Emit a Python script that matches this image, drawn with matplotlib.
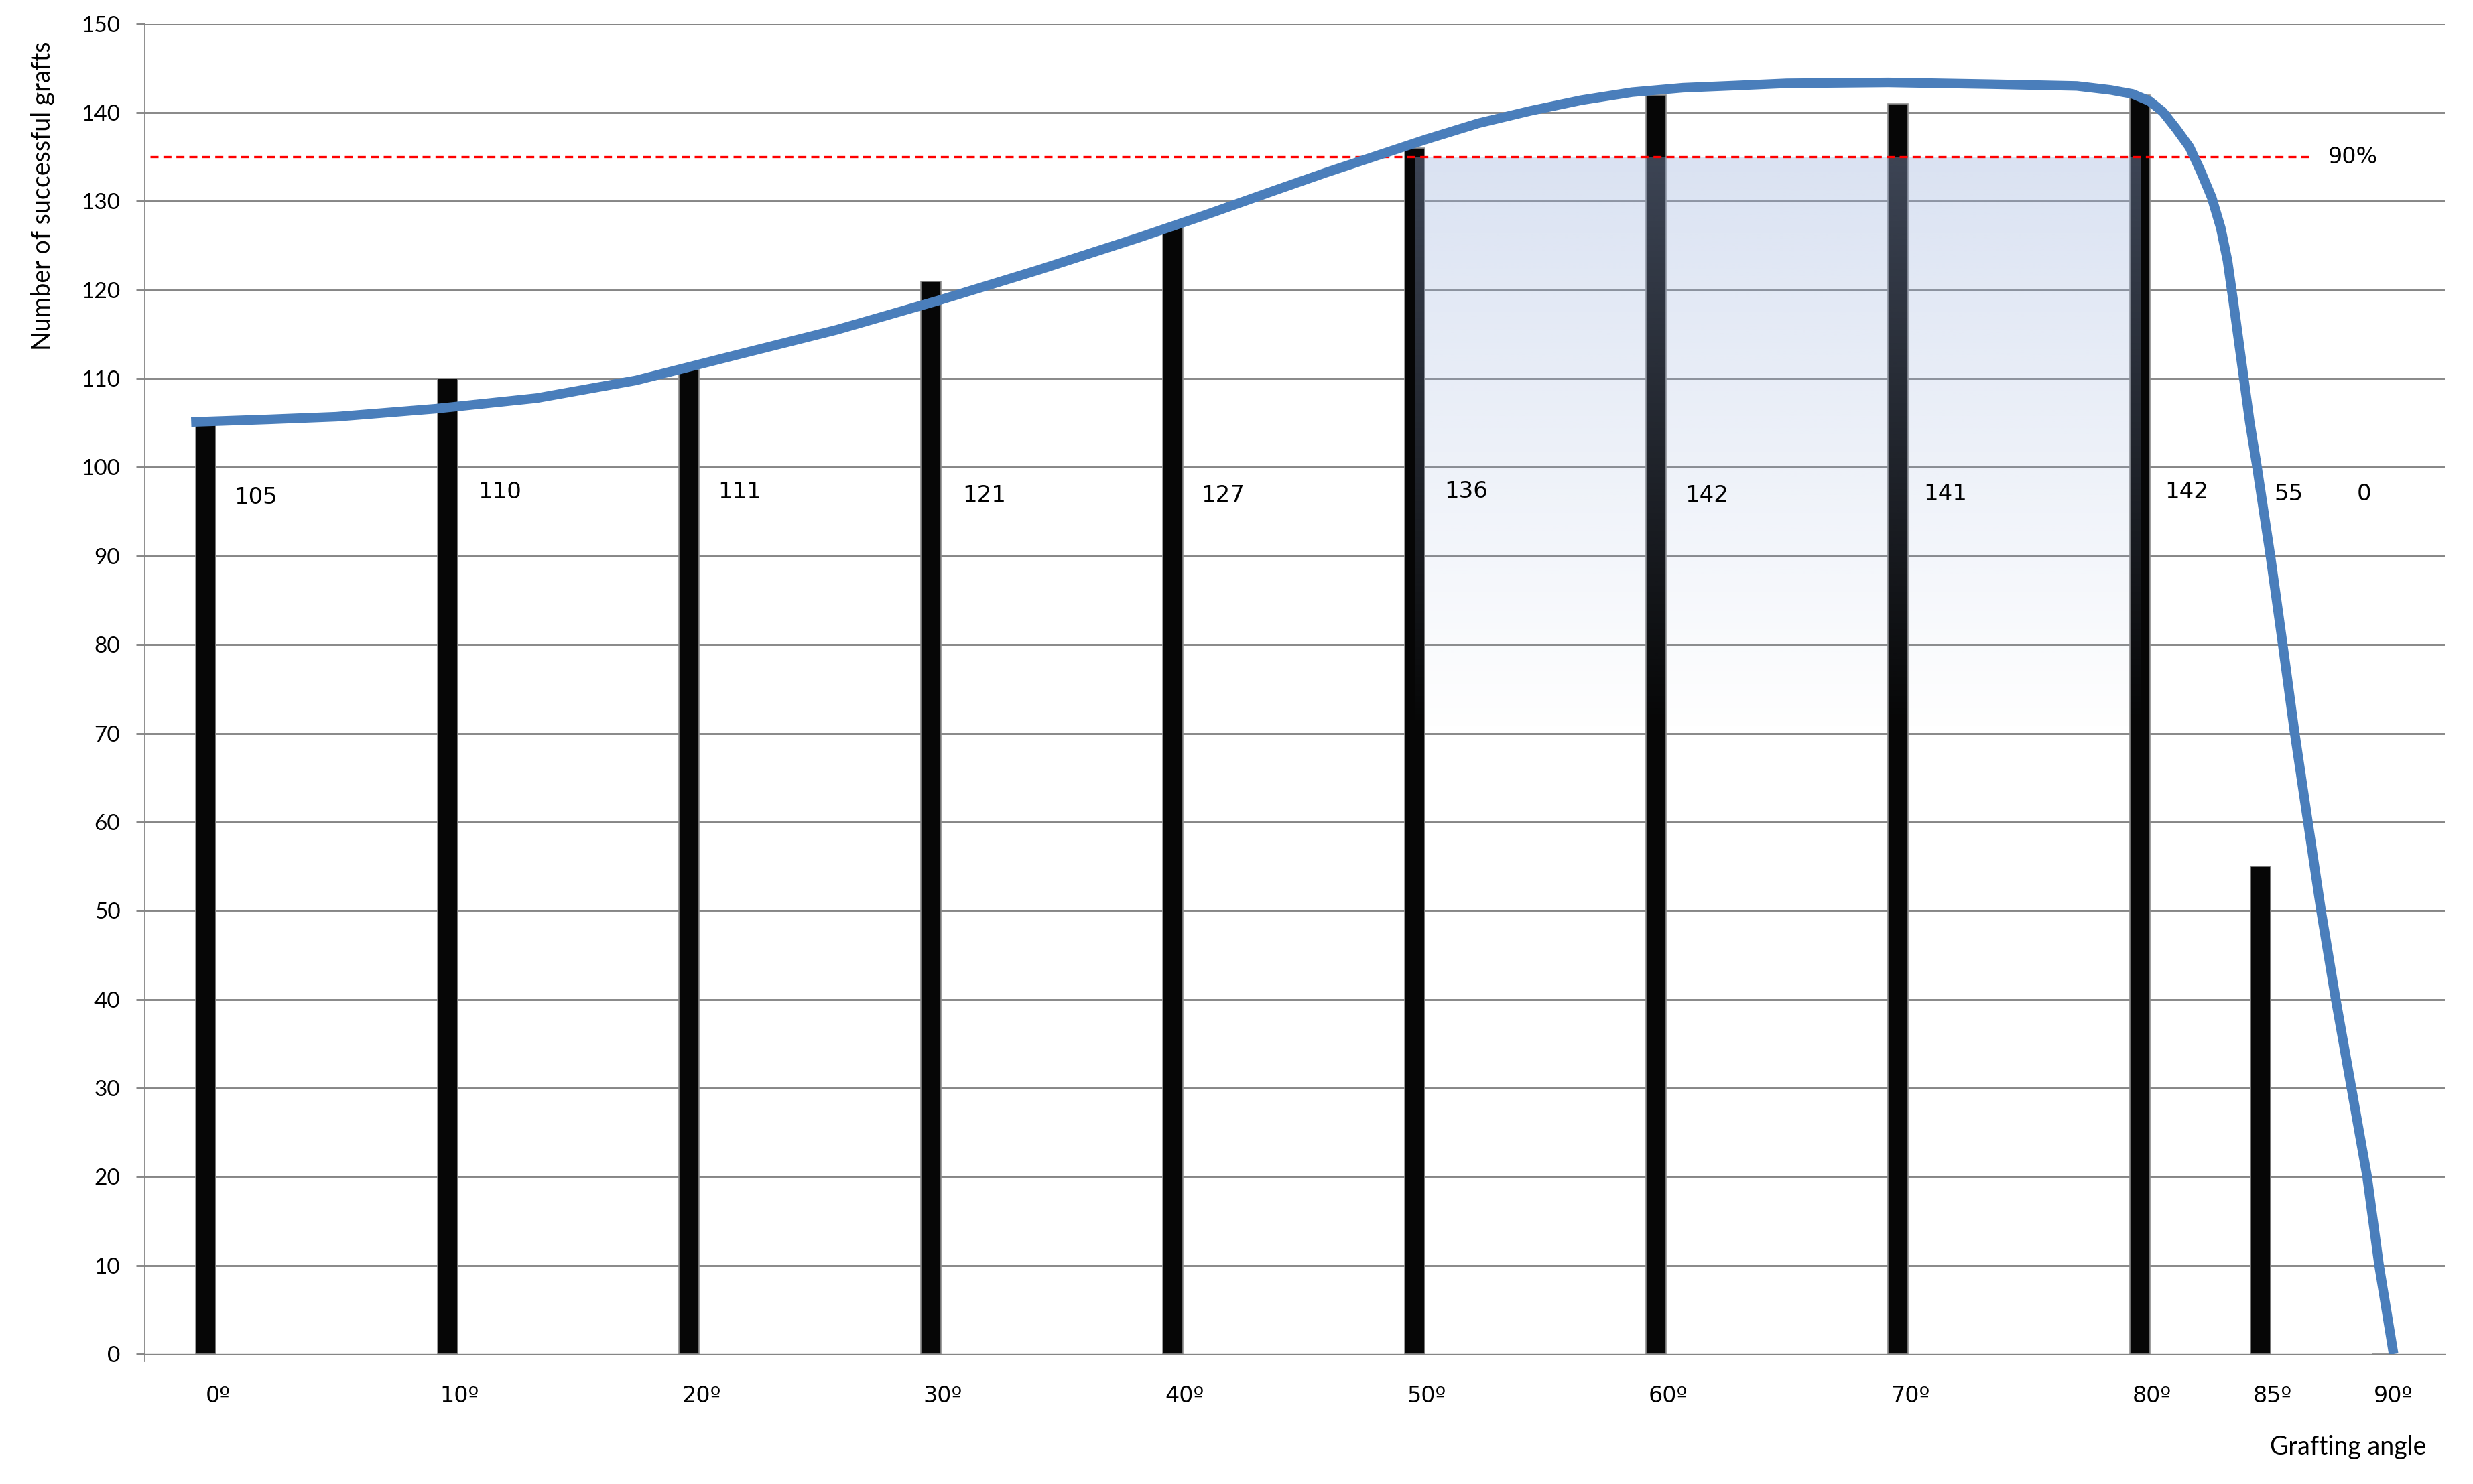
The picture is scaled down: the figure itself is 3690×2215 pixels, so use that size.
import matplotlib
matplotlib.use('Agg')
import matplotlib.pyplot as plt
import numpy as np
from matplotlib.transforms import ScaledTranslation

# ---------------- data ----------------
angles = [0, 10, 20, 30, 40, 50, 60, 70, 80, 85, 90]
grafts = [105, 110, 111, 121, 127, 136, 142, 141, 142, 55, 0]
tick_labels = ['0º', '10º', '20º', '30º', '40º', '50º', '60º', '70º', '80º', '85º', '90º']

# fitted trend curve
curve_angle = [-0.6, 2.6, 5.4, 9.5, 13.7, 17.8, 22.0, 26.1, 30.3, 34.5, 38.6, 41.4,
               44.2, 46.3, 48.4, 50.5, 52.65, 54.8, 56.9, 59.0, 61.1, 63.3, 65.4,
               69.6, 73.9, 77.4, 78.8, 79.7, 80.4, 80.95, 81.5, 82.06, 82.52, 82.98,
               83.35, 83.63, 83.86, 84.09, 84.32, 84.55, 84.83, 85.4, 85.9, 86.4,
               86.95, 87.5, 88.1, 88.75, 89.4, 89.9, 90.5]
curve_value = [105.1, 105.4, 105.7, 106.6, 107.8, 109.8, 112.7, 115.5, 118.8, 122.3,
               125.9, 128.5, 131.2, 133.2, 135.1, 137.0, 138.8, 140.2, 141.4, 142.3,
               142.8, 143.05, 143.3, 143.4, 143.2, 143.0, 142.55, 142.1, 141.3, 140.1,
               138.2, 136.1, 133.4, 130.4, 127.0, 123.3, 118.9, 114.3, 109.7, 105.1,
               100.4, 90.1, 80.3, 70.2, 60.1, 50.0, 40.1, 30.1, 20.1, 10.0, 0.0]

threshold = 135          # 90 % of 150
threshold_label = '90%'
band_angles = (50, 80)   # shaded optimum range
band_values = (70, 135)
y_ticks = list(range(0, 151, 10))

# ---------------- layout / style ----------------
W, H, DPI = 3691, 2215, 100
label_dx = [2.07, 2.16, 2.08, 2.2, 2.07, 2.15, 2.1, 1.97, 1.94, 1.17, -0.72]
label_y = [96.6, 97.2, 97.2, 96.8, 96.8, 97.25, 96.8, 97.0, 97.2, 97.0, 97.0]
grid_c = '#868686'
ax_font = 'Lato'
tick_font = 'DejaVu Sans'

fig = plt.figure(figsize=(W / DPI, H / DPI), dpi=DPI)
fig.patch.set_facecolor('white')
ax = fig.add_axes([216 / W, 1 - 2021 / H, (3648 - 216) / W, (2021 - 35.7) / H])

# gridlines (not at zero)
for yv in y_ticks[1:]:
    ax.axhline(yv, color=grid_c, lw=2.1, zorder=1)

# bars
ax.bar(angles, grafts, width=0.83, color='#060606', edgecolor='#8c8c8c',
       linewidth=1.2, zorder=2)

# shaded gradient band
n = 256
t = np.linspace(0, 1, n)
rgba = np.zeros((n, 1, 4))
rgba[..., 0] = 155 / 255
rgba[..., 1] = 177 / 255
rgba[..., 2] = 220 / 255
rgba[:, 0, 3] = 0.37 * (1 - t)
ax.imshow(rgba, extent=[band_angles[0], band_angles[1], band_values[0], band_values[1]],
          aspect='auto', zorder=3, interpolation='bilinear', origin='upper')

# 90% threshold line
ax.plot([-2.3, 87.0], [threshold, threshold], color='#ff0000', lw=2.4,
        dashes=(3.6, 2.2), zorder=4)
ax.text(87.8, threshold, threshold_label, fontsize=24, family='DejaVu Sans',
        va='center', ha='left', zorder=6)

# trend curve
ax.plot(curve_angle, curve_value, color='#4a7ebb', lw=10.3, solid_capstyle='butt',
        solid_joinstyle='round', zorder=5)

# value labels
for a, g, dx, ly in zip(angles, grafts, label_dx, label_y):
    ax.text(a + dx, ly, str(g), fontsize=24.5, family='DejaVu Sans',
            ha='center', va='center', zorder=6)

ax.set_xlim(-2.52, 92.62)
ax.set_ylim(0, 150)

# axes styling
for s in ['top', 'right']:
    ax.spines[s].set_visible(False)
ax.spines['left'].set_color(grid_c)
ax.spines['left'].set_linewidth(1.3)
ax.spines['left'].set_bounds(-0.85, 150)
ax.spines['bottom'].set_color(grid_c)
ax.spines['bottom'].set_linewidth(1.0)

ax.set_yticks(y_ticks)
ax.set_yticklabels([str(v) for v in y_ticks], family=ax_font, fontsize=24)
ax.tick_params(axis='y', length=9.4, width=2.1, color=grid_c, pad=17)

ax.set_xticks(angles)
ax.set_xticklabels(tick_labels, family=tick_font, fontsize=24)
ax.tick_params(axis='x', length=0, pad=33)
off = ScaledTranslation(18 / DPI, 0, fig.dpi_scale_trans)
for lab in ax.get_xticklabels():
    lab.set_transform(lab.get_transform() + off)

fig.text(64 / W, 1 - 292 / H, 'Number of successful grafts', rotation=90,
         family=ax_font, fontsize=27, ha='center', va='center')
fig.text(3504 / W, 1 - 2160 / H, 'Grafting angle', family=ax_font, fontsize=27,
         ha='center', va='center')

fig.savefig('out.png', dpi=DPI, facecolor='white')
